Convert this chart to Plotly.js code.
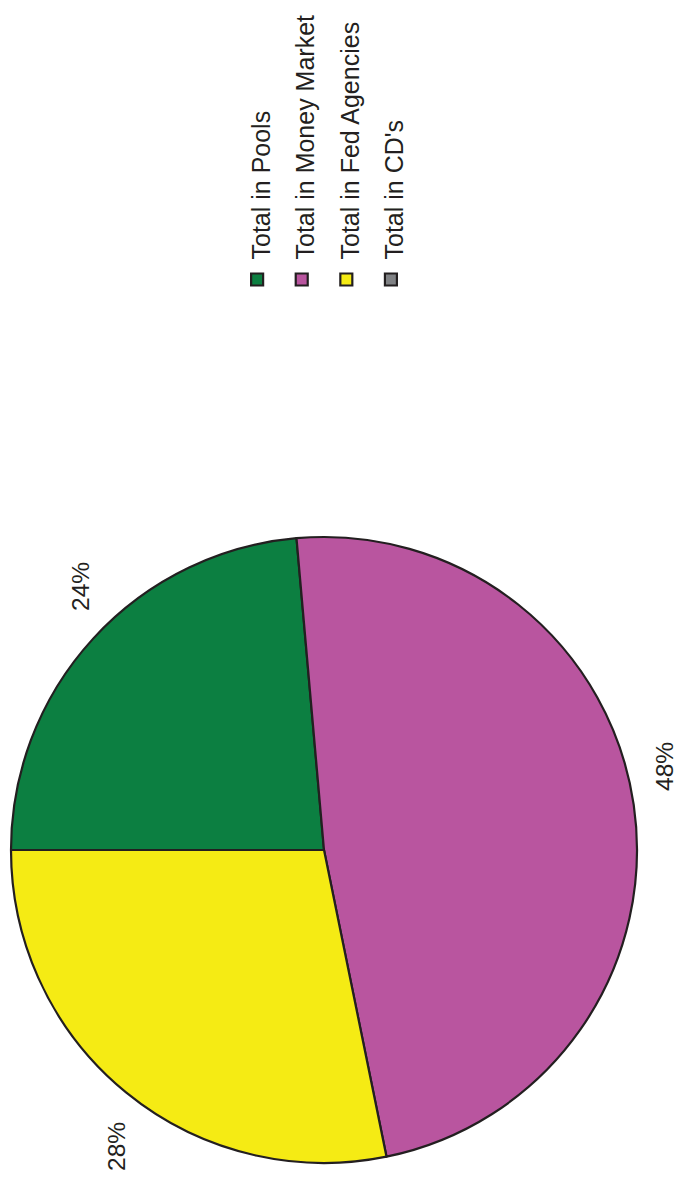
<!DOCTYPE html>
<html>
<head>
<meta charset="utf-8">
<script src="https://cdn.plot.ly/plotly-3.0.1.min.js"></script>
<style>
  html, body { margin: 0; padding: 0; background: #ffffff; overflow: hidden; }
  #plot {
    position: absolute; left: 0; top: 0;
    width: 1182px; height: 684px;
    transform-origin: 0 0;
    transform: translateY(1182px) rotate(-90deg);
  }
</style>
</head>
<body>
<div id="plot"></div>
<script>
// Data
const categories = ["Total in Pools", "Total in Money Market", "Total in Fed Agencies", "Total in CD's"];
const shares = [23.6, 48.2, 28.2, 0];
const sliceColors = ["#0c7f41", "#b9559f", "#f5eb14", "#808285"];

// Unrotated canvas size (page is rotated by CSS to read bottom-to-top)
const W = 1182, H = 684;
const pieCx = 332, pieCy = 324, pieR = 313;

const trace = {
  type: "pie",
  labels: categories.map(c => '<span style="font-size:25px">' + c + '</span>'),
  values: shares,
  sort: false,
  direction: "clockwise",
  rotation: 0,
  textinfo: "none",
  hoverinfo: "none",
  marker: { colors: sliceColors, line: { color: "#231f20", width: 2.2 } },
  domain: {
    x: [(pieCx - pieR) / W, (pieCx + pieR) / W],
    y: [1 - (pieCy + pieR) / H, 1 - (pieCy - pieR) / H]
  }
};

// Percent labels placed outside each slice, derived from the data
const total = shares.reduce((a, b) => a + b, 0);
const annotations = [];
let cum = 0;
shares.forEach((v, i) => {
  const frac = v / total;
  const mid = (cum + frac / 2) * 2 * Math.PI;
  cum += frac;
  if (v <= 0) return;
  const rr = pieR + 25;
  const sx = Math.sin(mid), sy = -Math.cos(mid);
  const u = pieCx + rr * sx + (sx >= 0 ? 35 : -35);
  const w = pieCy + rr * sy + 6;
  annotations.push({
    xref: "paper", yref: "paper",
    x: u / W, y: 1 - w / H,
    xanchor: "center", yanchor: "middle",
    showarrow: false,
    text: Math.round(frac * 100) + "%",
    font: { family: "Liberation Sans, Arial, sans-serif", size: 24.5, color: "#231f20" }
  });
});

const layout = {
  width: W, height: H,
  margin: { l: 0, r: 0, t: 0, b: 0 },
  paper_bgcolor: "#ffffff",
  plot_bgcolor: "#ffffff",
  showlegend: true,
  legend: {
    x: 0.7466, y: 0.664, xanchor: "left", yanchor: "top",
    font: { family: "Liberation Sans, Arial, sans-serif", size: 32, color: "#231f20" },
    bgcolor: "rgba(0,0,0,0)"
  },
  annotations: annotations
};

Plotly.newPlot("plot", [trace], layout, { displayModeBar: false, staticPlot: true });
</script>
</body>
</html>
